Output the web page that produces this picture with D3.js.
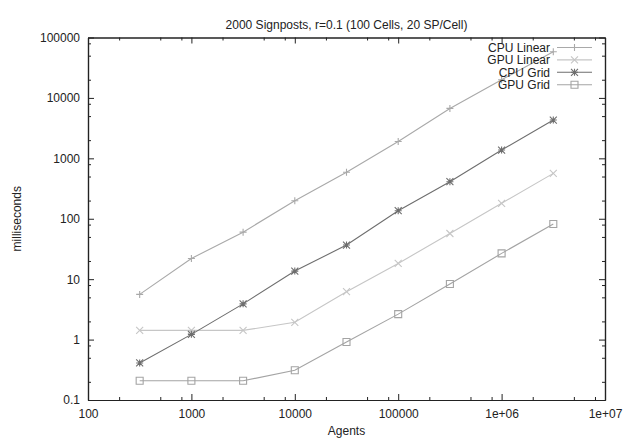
<!DOCTYPE html>
<html>
<head>
<meta charset="utf-8">
<script src="https://cdn.jsdelivr.net/npm/d3@7"></script>
<style>
  body { margin: 0; background: #fff; }
  svg text { font-family: "Liberation Sans", Arial, sans-serif; fill: #222; }
</style>
</head>
<body>
<div id="chart"></div>
<script>
// data
const agents = [316, 1000, 3162, 10000, 31623, 100000, 316228, 1000000, 3162278];
const cpuLinear = [5.6, 22, 60, 199, 587, 1900, 6700, 20000, 58000];
const gpuLinear = [1.42, 1.42, 1.42, 1.93, 6.2, 18.2, 57, 180, 564];
const cpuGrid = [0.41, 1.22, 3.9, 13.6, 36.7, 136, 410, 1370, 4300];
const gpuGrid = [0.208, 0.208, 0.208, 0.31, 0.91, 2.64, 8.3, 26.7, 82];

const seriesNames = ["CPU Linear", "GPU Linear", "CPU Grid", "GPU Grid"];
const xTickLabels = ["100", "1000", "10000", "100000", "1e+06", "1e+07"];
const yTickLabels = ["0.1", "1", "10", "100", "1000", "10000", "100000"];

const W = 634, H = 438;
const margin = {top: 37.5, right: 29, bottom: 38, left: 88};
const width = W - margin.left - margin.right;
const height = H - margin.top - margin.bottom;

const svg = d3.select("#chart").append("svg")
  .attr("width", W).attr("height", H);

const g = svg.append("g")
  .attr("transform", `translate(${margin.left}, ${margin.top})`);

const x = d3.scaleLog().domain([100, 1e7]).range([0, width]);
const y = d3.scaleLog().domain([0.1, 1e5]).range([height, 0]);

const xMajor = xTickLabels.map((d, i) => Math.pow(10, 2 + i));
const yMajor = yTickLabels.map((d, i) => Math.pow(10, -1 + i));
// minor ticks sit at 2, 5, 8 in each decade
const minors = (lo, hi) => {
  const out = [];
  for (let e = lo; e < hi; e++) [2, 5, 8].forEach(m => out.push(m * Math.pow(10, e)));
  return out;
};
const xMinor = minors(2, 7);
const yMinor = minors(-1, 5);

const fontSize = "12px";

// major ticks with labels
g.append("g").attr("class", "axis")
  .attr("transform", `translate(0, ${height})`)
  .call(d3.axisBottom(x).tickValues(xMajor).tickSize(-6).tickSizeOuter(0).tickPadding(9)
    .tickFormat((d, i) => xTickLabels[i]));
g.append("g").attr("class", "axis")
  .call(d3.axisLeft(y).tickValues(yMajor).tickSize(-6).tickSizeOuter(0).tickPadding(8)
    .tickFormat((d, i) => yTickLabels[i]));
g.append("g").attr("class", "axis")
  .call(d3.axisTop(x).tickValues(xMajor).tickSize(-6).tickSizeOuter(0).tickFormat(""));
g.append("g").attr("class", "axis")
  .attr("transform", `translate(${width}, 0)`)
  .call(d3.axisRight(y).tickValues(yMajor).tickSize(-6).tickSizeOuter(0).tickFormat(""));

// minor ticks
g.append("g").attr("class", "axis minor")
  .attr("transform", `translate(0, ${height})`)
  .call(d3.axisBottom(x).tickValues(xMinor).tickSize(-3).tickSizeOuter(0).tickFormat(""));
g.append("g").attr("class", "axis minor")
  .call(d3.axisTop(x).tickValues(xMinor).tickSize(-3).tickSizeOuter(0).tickFormat(""));
g.append("g").attr("class", "axis minor")
  .call(d3.axisLeft(y).tickValues(yMinor).tickSize(-3).tickSizeOuter(0).tickFormat(""));
g.append("g").attr("class", "axis minor")
  .attr("transform", `translate(${width}, 0)`)
  .call(d3.axisRight(y).tickValues(yMinor).tickSize(-3).tickSizeOuter(0).tickFormat(""));

g.selectAll(".axis path").attr("stroke", "#222").attr("stroke-width", 1.2);
g.selectAll(".axis line").attr("stroke", "#222");
g.selectAll(".axis text")
  .style("font-family", "Liberation Sans, Arial, sans-serif")
  .style("font-size", fontSize)
  .attr("fill", "#222");

// titles
svg.append("text")
  .attr("x", margin.left + width / 2).attr("y", 29)
  .attr("text-anchor", "middle").style("font-size", fontSize)
  .text("2000 Signposts, r=0.1 (100 Cells, 20 SP/Cell)");

svg.append("text")
  .attr("x", margin.left + width / 2).attr("y", 435)
  .attr("text-anchor", "middle").style("font-size", fontSize)
  .text("Agents");

svg.append("text")
  .attr("transform", `translate(21, ${margin.top + height / 2}) rotate(-90)`)
  .attr("text-anchor", "middle").style("font-size", fontSize)
  .text("milliseconds");

// marker shapes (gnuplot style point types)
const s = 3.5;
const markerPath = {
  plus: `M${-s},0H${s}M0,${-s}V${s}`,
  cross: `M${-s},${-s}L${s},${s}M${-s},${s}L${s},${-s}`,
  star: `M${-s},0H${s}M0,${-s}V${s}M${-s},${-s}L${s},${s}M${-s},${s}L${s},${-s}`,
  square: `M${-s},${-s}H${s}V${s}H${-s}Z`
};

const series = [
  {name: seriesNames[0], values: cpuLinear, color: "#a9a9a9", marker: "plus"},
  {name: seriesNames[1], values: gpuLinear, color: "#c6c6c6", marker: "cross"},
  {name: seriesNames[2], values: cpuGrid, color: "#6e6e6e", marker: "star"},
  {name: seriesNames[3], values: gpuGrid, color: "#a4a4a4", marker: "square"}
];

const line = d3.line()
  .x(d => x(d[0]))
  .y(d => y(d[1]));

series.forEach(sr => {
  const pts = agents.map((a, i) => [a, sr.values[i]]);
  g.append("path")
    .datum(pts)
    .attr("fill", "none")
    .attr("stroke", sr.color)
    .attr("stroke-width", 1.1)
    .attr("d", line);
  g.selectAll(null)
    .data(pts)
    .enter()
    .append("path")
    .attr("transform", d => `translate(${x(d[0])}, ${y(d[1])})`)
    .attr("d", markerPath[sr.marker])
    .attr("fill", "none")
    .attr("stroke", sr.color)
    .attr("stroke-width", 1.1);
});

// legend, top right, no box
const legend = svg.append("g");
series.forEach((sr, i) => {
  const ly = 47.5 + i * 12.4;
  legend.append("text")
    .attr("x", 550).attr("y", ly).attr("dy", "0.35em")
    .attr("text-anchor", "end").style("font-size", fontSize)
    .text(sr.name);
  legend.append("line")
    .attr("x1", 557).attr("x2", 592).attr("y1", ly).attr("y2", ly)
    .attr("stroke", sr.color).attr("stroke-width", 1.1);
  legend.append("path")
    .attr("transform", `translate(574.5, ${ly})`)
    .attr("d", markerPath[sr.marker])
    .attr("fill", "none").attr("stroke", sr.color).attr("stroke-width", 1.1);
});
</script>
</body>
</html>
